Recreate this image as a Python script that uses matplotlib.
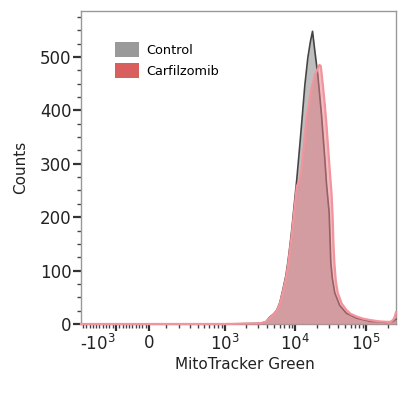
import numpy as np
import matplotlib
matplotlib.use("Agg")
import matplotlib.pyplot as plt
from matplotlib.patches import Patch

# fluorescence values (MitoTracker Green) and counts
control_x = [-2060, 0, 1000, 2854, 3360, 3830, 4355, 4955, 5470, 6030, 6650,
             7320, 7816, 8340, 8896, 9804, 10470, 11535, 12510, 13575, 14946,
             16230, 17431, 18785, 20705, 23345, 25984, 27458, 28658, 29880,
             30750, 31560, 33180, 35930, 39600, 42000, 52570, 72770, 112000,
             192800, 240000, 262144]
control_y = [0, 0, 0, 1, 2, 4, 13, 19, 26, 40, 64, 90, 115, 145, 177, 234,
             272, 335, 390, 447, 498, 528, 548, 511, 466, 391, 309, 262, 235,
             209, 160, 115, 85, 58, 44, 35, 20, 11, 5, 3, 5, 9]

carf_x = [-2060, 0, 1000, 2854, 3360, 3830, 4355, 4955, 5470, 6030, 6650,
          7320, 7816, 8340, 8896, 9804, 10470, 11535, 12190, 13300, 14350,
          16500, 18785, 20700, 21800, 22800, 24356, 25980, 27458, 30578, 32290,
          33500, 34380, 35400, 37150, 39600, 45000, 52570, 60000, 72770, 90000,
          112000, 150000, 192800, 220000, 240000, 252500, 262144]
carf_y = [0, 0, 0, 1, 2, 4, 12, 18, 25, 38, 60, 85, 108, 138, 168, 222, 258,
          270, 291, 340, 385, 435, 466, 478, 485, 483, 447, 410, 372, 285, 245,
          200, 150, 115, 80, 58, 38, 26, 19, 14, 10, 7.5, 5, 4, 4, 8, 14, 22]

labels = ["Control", "Carfilzomib"]
major_ticks = [-1000, 0, 1000, 10000, 100000]
major_labels = ["-$10^{3}$", "0", "$10^{3}$", "$10^{4}$", "$10^{5}$"]

# biexponential-like display: log above zero, compressed linear below
C = 85.7
A = 1.07e-3


def fwd(x):
    x = np.asarray(x, dtype=float)
    with np.errstate(all="ignore"):
        return np.where(x >= 0, np.arcsinh(x / (2 * C)), A * x)


def inv(u):
    u = np.asarray(u, dtype=float)
    with np.errstate(all="ignore"):
        return np.where(u >= 0, 2 * C * np.sinh(np.clip(u, 0, 50)), u / A)


plt.rcParams["font.family"] = "DejaVu Sans"
plt.rcParams["mathtext.fontset"] = "dejavusans"

fig = plt.figure(figsize=(3.98, 3.94), dpi=100)
ax = fig.add_axes([81 / 398, 1 - 324 / 394, 315 / 398, 313 / 394])
ax.set_xscale("function", functions=(fwd, inv))

ax.fill_between(control_x, control_y, color="#a9a9a9", alpha=0.75, lw=0, zorder=2)
ax.plot(control_x, control_y, color="#454545", lw=1.2, zorder=3, clip_on=False)
ax.fill_between(carf_x, carf_y, color="#e77c86", alpha=0.5, lw=0, zorder=4)
ax.plot(carf_x, carf_y, color="#f2949c", lw=1.6, zorder=5, clip_on=False)

ax.set_xlim(-2060, 262144)
ax.set_ylim(0, 586)

ax.set_xticks(major_ticks)
ax.set_xticklabels(major_labels)
minor = ([-v for v in range(100, 2100, 100) if v != 1000]
         + list(range(100, 1000, 100)) + list(range(2000, 10000, 1000))
         + list(range(20000, 100000, 10000)) + [200000])
ax.set_xticks(minor, minor=True)
ax.xaxis.get_major_ticks()[0].label1.set_horizontalalignment("right")

ax.set_yticks(range(0, 600, 100))
ax.set_yticks(range(0, 600, 25), minor=True)

ax.tick_params(axis="both", which="major", labelsize=12, colors="#333333",
               labelcolor="#222222", width=1.6)
ax.tick_params(axis="y", which="major", length=6, pad=1)
ax.tick_params(axis="y", which="minor", length=3, width=1, colors="#444444")
ax.tick_params(axis="x", which="major", length=5, pad=2)
ax.tick_params(axis="x", which="minor", length=3, width=1, colors="#444444")

for s in ax.spines.values():
    s.set_color("#999999")
    s.set_linewidth(1)

ax.set_xlabel("MitoTracker Green", fontsize=11, color="#222222")
ax.xaxis.set_label_coords(0.52, -0.106)
ax.set_ylabel("Counts", fontsize=11, color="#222222", labelpad=8)

handles = [Patch(facecolor="#9a9a9a", edgecolor="none"),
           Patch(facecolor="#d95f5f", edgecolor="none")]
fs = 9.3
ax.legend(handles, labels, loc="upper left", frameon=False, fontsize=fs,
          bbox_to_anchor=(115 / 398, 1 - 42 / 394), bbox_transform=fig.transFigure,
          borderpad=0, borderaxespad=0, handlelength=1.85, handleheight=1.45,
          handletextpad=0.55, labelspacing=0.45)

fig.savefig("out.png", dpi=100)
